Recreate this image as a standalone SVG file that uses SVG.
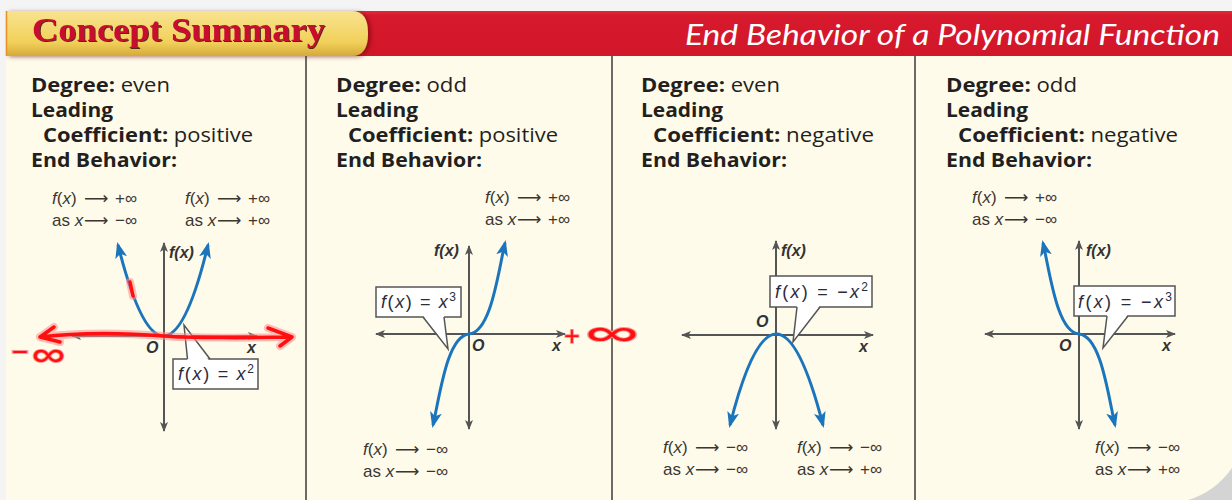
<svg xmlns="http://www.w3.org/2000/svg" width="1232" height="500" viewBox="0 0 1232 500">
<defs>
<style>
.pt{font-family:"Open Sans","Noto Sans",sans-serif;font-size:20px;fill:#231f20;}
.b{font-weight:700;}
.sm{font-family:"Liberation Sans","DejaVu Sans",sans-serif;font-size:17px;fill:#3b3632;}
.it{font-style:italic;}
.ax{stroke:#555;stroke-width:2;fill:none;marker-start:url(#ah);marker-end:url(#ah);}
.crv{stroke:#1b75bc;stroke-width:3;fill:none;marker-start:url(#bh);marker-end:url(#bh);}
.lbl{font-family:"Liberation Sans",sans-serif;font-weight:700;font-style:italic;font-size:16px;fill:#333;}
.box{fill:#fff;stroke:#555;stroke-width:1.5;}
.ptr{fill:none;stroke:#555;stroke-width:1.5;}
.ctx{font-family:"Liberation Sans",sans-serif;font-size:18px;fill:#2b2b3a;}
.sep{stroke:#3a3a3a;stroke-width:1.5;}
.halo{fill:none;stroke:#ff8a8a;stroke-width:8;stroke-linecap:round;stroke-linejoin:round;opacity:0.55;}
.ink{fill:none;stroke:#ff1010;stroke-width:3.5;stroke-linecap:round;stroke-linejoin:round;}
.inktx{font-family:"Open Sans","DejaVu Sans",sans-serif;font-weight:400;fill:#ff1010;stroke:#ff9090;stroke-width:1.6;paint-order:stroke;}
</style>
<linearGradient id="tabg" x1="0" y1="0" x2="0" y2="1">
<stop offset="0" stop-color="#f8e38e"/><stop offset="0.7" stop-color="#f1d05a"/><stop offset="1" stop-color="#d6a93a"/>
</linearGradient>
<linearGradient id="redg" x1="0" y1="0" x2="0" y2="1">
<stop offset="0" stop-color="#e02a3a"/><stop offset="0.1" stop-color="#d7192d"/><stop offset="1" stop-color="#d2162a"/>
</linearGradient>
<filter id="tsh" x="-5%" y="-20%" width="110%" height="140%"><feDropShadow dx="1" dy="1" stdDeviation="0.4" flood-color="#3a0a0a" flood-opacity="0.85"/></filter>
<filter id="tabsh" x="-5%" y="-20%" width="110%" height="150%"><feDropShadow dx="3" dy="1" stdDeviation="2" flood-color="#600000" flood-opacity="0.5"/></filter>
<marker id="ah" viewBox="0 0 10 8" refX="9" refY="4" markerWidth="10" markerHeight="8" markerUnits="userSpaceOnUse" orient="auto-start-reverse">
<path d="M0,0 L10,4 L0,8 L2.5,4 Z" fill="#555"/>
</marker>
<marker id="bh" viewBox="0 0 16 12" refX="13" refY="6" markerWidth="16" markerHeight="12" markerUnits="userSpaceOnUse" orient="auto-start-reverse">
<path d="M0,0 L16,6 L0,12 L4,6 Z" fill="#1b75bc"/>
</marker>
</defs>

<rect width="1232" height="500" fill="#f4f4f4"/>
<rect x="6" y="56" width="1226" height="444" fill="#fffbea"/>
<path d="M1188,500 Q1215,492 1232,468 V500 Z" fill="#d4d4d4"/>

<g id="header">
<rect x="300" y="11" width="932" height="45" fill="url(#redg)"/>
<path d="M6,11 H352 Q368,11 368,33.5 Q368,56 352,56 H6 Z" fill="url(#tabg)" filter="url(#tabsh)"/>
<line x1="6.5" y1="11" x2="6.5" y2="56" stroke="#e8902a" stroke-width="1.5"/>
<text x="32" y="41" font-family="Liberation Serif,serif" font-weight="700" font-size="33" fill="#c8102e" textLength="293" lengthAdjust="spacingAndGlyphs" filter="url(#tsh)">Concept Summary</text>
<text x="685" y="45" font-family="Lato,sans-serif" font-style="italic" font-size="29" fill="#ffffff" textLength="535" lengthAdjust="spacingAndGlyphs">End Behavior of a Polynomial Function</text>
</g>

<g id="separators">
<line class="sep" x1="306" y1="56" x2="306" y2="500"/>
<line class="sep" x1="612" y1="56" x2="612" y2="500"/>
<line class="sep" x1="915" y1="56" x2="915" y2="500"/>
</g>

<g id="panel1">
<text class="pt" x="31" y="92" textLength="139" lengthAdjust="spacingAndGlyphs"><tspan class="b">Degree:</tspan> even</text>
<text class="pt b" x="31" y="117" textLength="82" lengthAdjust="spacingAndGlyphs">Leading</text>
<text class="pt" x="43" y="142" textLength="210" lengthAdjust="spacingAndGlyphs"><tspan class="b">Coefficient:</tspan> positive</text>
<text class="pt b" x="31" y="167" textLength="146" lengthAdjust="spacingAndGlyphs">End Behavior:</text>
<text class="sm" y="204"><tspan x="52" class="it">f</tspan>(<tspan class="it">x</tspan>)<tspan x="84">⟶</tspan><tspan x="115">+∞</tspan></text>
<text class="sm" y="226"><tspan x="52">as </tspan><tspan class="it">x</tspan><tspan x="84">⟶</tspan><tspan x="115">−∞</tspan></text>
<text class="sm" y="204"><tspan x="185" class="it">f</tspan>(<tspan class="it">x</tspan>)<tspan x="217">⟶</tspan><tspan x="248">+∞</tspan></text>
<text class="sm" y="226"><tspan x="185">as </tspan><tspan class="it">x</tspan><tspan x="217">⟶</tspan><tspan x="248">+∞</tspan></text>
<line class="ax" x1="72" y1="336" x2="257" y2="336"/>
<line class="ax" x1="164" y1="431" x2="164" y2="243"/>
<path class="crv" d="M118,245 Q164,427 208,245"/>
<text class="lbl" x="169" y="258">f(x)</text>
<text class="lbl" x="146" y="353">O</text>
<text class="lbl" x="247" y="353">x</text>
<rect class="box" x="173" y="359" width="85" height="30"/>
<polygon points="187.5,360.5 184,325 209,360.5" fill="#fff"/>
<polyline class="ptr" points="187.5,359 184,325 210,359"/>
<text class="ctx" x="178" y="380" textLength="76" lengthAdjust="spacing"><tspan class="it">f</tspan>(<tspan class="it">x</tspan>) = <tspan class="it">x</tspan><tspan dy="-7" font-size="12">2</tspan></text>
</g>

<g id="panel2">
<text class="pt" x="336" y="92" textLength="131" lengthAdjust="spacingAndGlyphs"><tspan class="b">Degree:</tspan> odd</text>
<text class="pt b" x="336" y="117" textLength="82" lengthAdjust="spacingAndGlyphs">Leading</text>
<text class="pt" x="348" y="142" textLength="210" lengthAdjust="spacingAndGlyphs"><tspan class="b">Coefficient:</tspan> positive</text>
<text class="pt b" x="336" y="167" textLength="146" lengthAdjust="spacingAndGlyphs">End Behavior:</text>
<text class="sm" y="203"><tspan x="485" class="it">f</tspan>(<tspan class="it">x</tspan>)<tspan x="517">⟶</tspan><tspan x="548">+∞</tspan></text>
<text class="sm" y="225"><tspan x="485">as </tspan><tspan class="it">x</tspan><tspan x="517">⟶</tspan><tspan x="548">+∞</tspan></text>
<text class="sm" y="455"><tspan x="363" class="it">f</tspan>(<tspan class="it">x</tspan>)<tspan x="395">⟶</tspan><tspan x="426">−∞</tspan></text>
<text class="sm" y="477"><tspan x="363">as </tspan><tspan class="it">x</tspan><tspan x="395">⟶</tspan><tspan x="426">−∞</tspan></text>
<line class="ax" x1="376" y1="334" x2="565" y2="334"/>
<line class="ax" x1="469" y1="429" x2="469" y2="246"/>
<path class="crv" d="M433,425 C440,395 447,336 469,334 C491,332 498,273 505,243"/>
<text class="lbl" x="434" y="256">f(x)</text>
<text class="lbl" x="472" y="351">O</text>
<text class="lbl" x="552" y="351">x</text>
<rect class="box" x="376" y="287" width="85" height="30"/>
<polygon points="423,315.5 448,349 444,315.5" fill="#fff"/>
<polyline class="ptr" points="423,317 448,349 444,317"/>
<text class="ctx" x="381" y="308" textLength="75" lengthAdjust="spacing"><tspan class="it">f</tspan>(<tspan class="it">x</tspan>) = <tspan class="it">x</tspan><tspan dy="-7" font-size="12">3</tspan></text>
</g>

<g id="panel3">
<text class="pt" x="641" y="92" textLength="139" lengthAdjust="spacingAndGlyphs"><tspan class="b">Degree:</tspan> even</text>
<text class="pt b" x="641" y="117" textLength="82" lengthAdjust="spacingAndGlyphs">Leading</text>
<text class="pt" x="653" y="142" textLength="221" lengthAdjust="spacingAndGlyphs"><tspan class="b">Coefficient:</tspan> negative</text>
<text class="pt b" x="641" y="167" textLength="146" lengthAdjust="spacingAndGlyphs">End Behavior:</text>
<text class="sm" y="453"><tspan x="663" class="it">f</tspan>(<tspan class="it">x</tspan>)<tspan x="695">⟶</tspan><tspan x="726">−∞</tspan></text>
<text class="sm" y="475"><tspan x="663">as </tspan><tspan class="it">x</tspan><tspan x="695">⟶</tspan><tspan x="726">−∞</tspan></text>
<text class="sm" y="453"><tspan x="797" class="it">f</tspan>(<tspan class="it">x</tspan>)<tspan x="829">⟶</tspan><tspan x="860">−∞</tspan></text>
<text class="sm" y="475"><tspan x="797">as </tspan><tspan class="it">x</tspan><tspan x="829">⟶</tspan><tspan x="860">+∞</tspan></text>
<line class="ax" x1="682" y1="335" x2="873" y2="335"/>
<line class="ax" x1="776" y1="429" x2="776" y2="241"/>
<path class="crv" d="M730,425 Q776,243 823,425"/>
<text class="lbl" x="781" y="256">f(x)</text>
<text class="lbl" x="756" y="327">O</text>
<text class="lbl" x="859" y="352">x</text>
<rect class="box" x="770" y="276" width="102" height="31"/>
<polygon points="797,305.5 793,342 820,305.5" fill="#fff"/>
<polyline class="ptr" points="797,307 793,342 820,307"/>
<text class="ctx" x="775" y="298" textLength="93" lengthAdjust="spacing"><tspan class="it">f</tspan>(<tspan class="it">x</tspan>) = −<tspan class="it">x</tspan><tspan dy="-7" font-size="12">2</tspan></text>
</g>

<g id="panel4">
<text class="pt" x="946" y="92" textLength="131" lengthAdjust="spacingAndGlyphs"><tspan class="b">Degree:</tspan> odd</text>
<text class="pt b" x="946" y="117" textLength="82" lengthAdjust="spacingAndGlyphs">Leading</text>
<text class="pt" x="958" y="142" textLength="220" lengthAdjust="spacingAndGlyphs"><tspan class="b">Coefficient:</tspan> negative</text>
<text class="pt b" x="946" y="167" textLength="146" lengthAdjust="spacingAndGlyphs">End Behavior:</text>
<text class="sm" y="203"><tspan x="972" class="it">f</tspan>(<tspan class="it">x</tspan>)<tspan x="1004">⟶</tspan><tspan x="1035">+∞</tspan></text>
<text class="sm" y="225"><tspan x="972">as </tspan><tspan class="it">x</tspan><tspan x="1004">⟶</tspan><tspan x="1035">−∞</tspan></text>
<text class="sm" y="453"><tspan x="1095" class="it">f</tspan>(<tspan class="it">x</tspan>)<tspan x="1127">⟶</tspan><tspan x="1158">−∞</tspan></text>
<text class="sm" y="475"><tspan x="1095">as </tspan><tspan class="it">x</tspan><tspan x="1127">⟶</tspan><tspan x="1158">+∞</tspan></text>
<line class="ax" x1="985" y1="334" x2="1175" y2="334"/>
<line class="ax" x1="1079" y1="429" x2="1079" y2="241"/>
<path class="crv" d="M1043,243 C1050,273 1057,332 1079,334 C1101,336 1108,395 1115,425"/>
<text class="lbl" x="1086" y="256">f(x)</text>
<text class="lbl" x="1059" y="351">O</text>
<text class="lbl" x="1162" y="351">x</text>
<rect class="box" x="1074" y="286" width="101" height="30"/>
<polygon points="1107,314.5 1103,348 1128,314.5" fill="#fff"/>
<polyline class="ptr" points="1107,316 1103,348 1128,316"/>
<text class="ctx" x="1078" y="308" textLength="94" lengthAdjust="spacing"><tspan class="it">f</tspan>(<tspan class="it">x</tspan>) = −<tspan class="it">x</tspan><tspan dy="-7" font-size="12">3</tspan></text>
</g>

<g id="ink">
<path class="halo" d="M40,337 C90,331 140,334 164,336 S250,338 292,337 M54,327 L40,337 L60,342 M268,328 L292,337 L280,346 M130,282 L133,296"/>
<path class="ink" d="M40,337 C90,331 140,334 164,336 S250,338 292,337 M54,327 L40,337 L60,342 M268,328 L292,337 L280,346 M130,282 L133,296"/>
<text class="inktx" x="11" y="360" font-size="30" textLength="18" lengthAdjust="spacingAndGlyphs">-</text>
<text class="inktx" x="31" y="370" font-size="40" textLength="35" lengthAdjust="spacingAndGlyphs">∞</text>
<text class="inktx" x="564" y="346" font-size="28">+</text>
<text class="inktx" x="584" y="350" font-size="44" textLength="56" lengthAdjust="spacingAndGlyphs">∞</text>
</g>
</svg>
